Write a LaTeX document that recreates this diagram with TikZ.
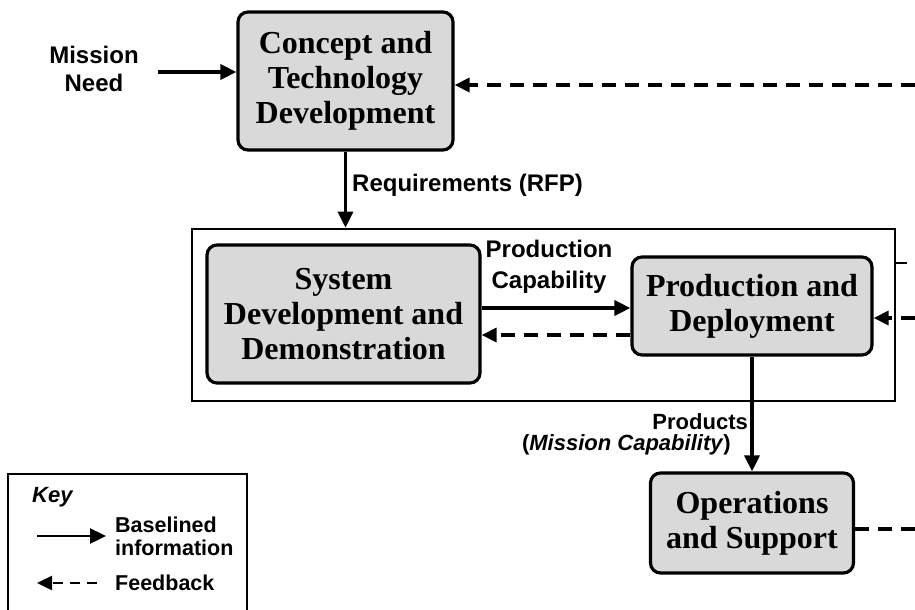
\documentclass[tikz,border=0pt]{standalone}
\usepackage{fontspec}
\setmainfont{Liberation Serif}
\setsansfont{Liberation Sans}
\usetikzlibrary{arrows.meta,positioning}

\begin{document}
\begin{tikzpicture}[x=1pt,y=-1pt,
    phase/.style={draw,line width=3.2pt,rounded corners=10pt,fill=black!15,align=center,inner sep=0,
      font=\fontsize{32}{35}\selectfont\bfseries},
    lbl/.style={align=center,inner sep=0,font=\fontsize{24}{28}\selectfont\sffamily\bfseries},
    arr/.style={line width=3.2pt,-{Triangle[length=16pt,width=15pt]}},
    fb/.style={line width=3.2pt,dash pattern=on 14pt off 9pt,-{Triangle[length=15pt,width=14pt]}},
    fbline/.style={line width=3.2pt,dash pattern=on 14pt off 9pt}]
    \clip (0,0) rectangle (915,610);
    \node[phase,minimum width=215pt,minimum height=138pt] (ctd) at (345.5,81) {Concept and\\Technology\\Development};
    \node[draw,line width=2.6pt,minimum width=703pt,minimum height=172pt] (grp) at (543.5,315) {};
    \node[phase,minimum width=273pt,minimum height=138pt] (sdd) at (343.5,314) {System\\Development and\\Demonstration};
    \node[phase,minimum width=240pt,minimum height=98pt] (pd) at (752,306) {Production and\\Deployment};
    \node[phase,minimum width=203pt,minimum height=100pt] (os) at (752,523) {Operations\\and Support};
    \node[lbl] (mn) at (94,69) {Mission\\Need};
    \node[lbl,anchor=west] (req) at (352,185) {Requirements (RFP)};
    \node[lbl,font=\fontsize{24}{31}\selectfont\sffamily\bfseries] (pc) at (549,267) {Production\\Capability};
    \node[lbl,anchor=east,font=\fontsize{22}{24}\selectfont\sffamily\bfseries] (prod) at (748,422) {Products};
    \node[lbl,anchor=east,font=\fontsize{22}{24}\selectfont\sffamily\bfseries] (mc) at (731,445) {(\textit{Mission Capability})};
    \coordinate (mnin) at (158,72);
    \coordinate (fbctd) at (915,85);
    \coordinate (pdout) at (907,263);
    \coordinate (fbpd) at (915,318);
    \coordinate (fbos) at (915,529);
    \draw[arr] (mnin) -- (mnin -| ctd.west);
    \draw[fb] (fbctd) -- (fbctd -| ctd.east);
    \draw[arr] (ctd.south) -- (ctd.south |- grp.north);
    \draw[arr] ([yshift=6pt]sdd.east) -- ([yshift=6pt]sdd.east -| pd.west);
    \draw[fb] ([yshift=-21pt]sdd.east -| pd.west) -- ([yshift=-21pt]sdd.east);
    \draw[line width=2.6pt] (pdout -| grp.east) -- (pdout);
    \draw[fb] (fbpd) -- (fbpd -| pd.east);
    \draw[arr] (pd.south) -- (os.north);
    \draw[fbline] (fbos -| os.east) -- (fbos);
    \draw[line width=1.6pt] (8,474) rectangle (247,640);
    \node[lbl,anchor=west,font=\fontsize{22}{24}\selectfont\sffamily\bfseries] (key) at (32,497) {\textit{Key}};
    \coordinate (k1) at (37,536);
    \coordinate (k2) at (106,536);
    \coordinate (k3) at (97,583);
    \coordinate (k4) at (37,583);
    \draw[arr,line width=2.4pt] (k1) -- (k2);
    \draw[fb,line width=2.4pt,dash pattern=on 10pt off 7pt] (k3) -- (k4);
    \node[lbl,anchor=west,align=left,font=\fontsize{21.5}{23}\selectfont\sffamily\bfseries] (bl) at (115,536) {Baselined\\information};
    \node[lbl,anchor=west,font=\fontsize{21.5}{23}\selectfont\sffamily\bfseries] (fbk) at (115,583) {Feedback};
\end{tikzpicture}
\end{document}
